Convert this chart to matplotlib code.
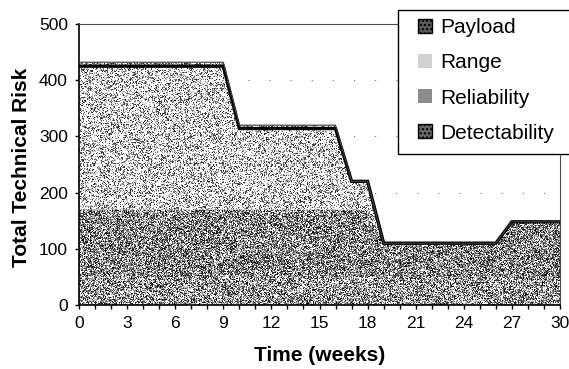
import matplotlib
matplotlib.use("Agg")
import matplotlib.pyplot as plt
import numpy as np
from matplotlib.patches import Patch, Rectangle

# risk per category over the programme, stacked bottom to top
weeks = list(range(31))
detectability = [50, 50, 50, 50, 50, 50, 50, 50, 50, 50,
                 50, 50, 50, 50, 50, 50, 50, 50, 50, 50,
                 50, 50, 50, 50, 50, 50, 50, 50, 50, 50, 50]
reliability = [120, 120, 120, 120, 120, 120, 120, 120, 120, 120,
               120, 120, 120, 120, 120, 120, 120, 120, 120, 60,
               60, 60, 60, 60, 60, 60, 60, 98, 98, 98, 98]
range_risk = [255, 255, 255, 255, 255, 255, 255, 255, 255, 255,
              144, 144, 144, 144, 144, 144, 144, 50, 50, 0,
              0, 0, 0, 0, 0, 0, 0, 0, 0, 0, 0]
payload = [7, 7, 7, 7, 7, 7, 7, 7, 7, 7,
           6, 6, 6, 6, 6, 6, 6, 0, 0, 0,
           0, 0, 0, 0, 0, 0, 0, 0, 0, 0, 0]

labels = ["Payload", "Range", "Reliability", "Detectability"]

W, H = 569, 369
fig = plt.figure(figsize=(W / 100, H / 100), dpi=100)
ax = fig.add_axes([79 / W, 1 - 305 / H, 481 / W, 281 / H])


def stipple(density, lo_tone, hi_tone, seed):
    # grainy fill texture, one cell per screen pixel
    rng = np.random.default_rng(seed)
    dots = rng.random((281, 481)) < density
    tone = rng.uniform(lo_tone, hi_tone, (281, 481))
    return np.where(dots, tone, 1.0)


lo = np.zeros(len(weeks))
layers = [
    (detectability, stipple(0.68, 0.0, 0.85, 1)),
    (reliability, stipple(0.76, 0.0, 0.8, 2)),
    (range_risk, stipple(0.45, 0.1, 0.9, 3)),
    (payload, stipple(0.6, 0.1, 0.8, 4)),
]
tops = []
for vals, tex in layers:
    hi = lo + np.array(vals)
    poly = ax.fill_between(weeks, lo, hi, facecolor="none", edgecolor="none")
    im = ax.imshow(tex, cmap="gray", vmin=0, vmax=1, extent=(0, 30, 0, 500),
                   aspect="auto", interpolation="nearest", zorder=1)
    im.set_clip_path(poly.get_paths()[0], transform=ax.transData)
    tops.append(hi)
    lo = hi

# heavy outline along the top of the range band, thin one on payload
ax.plot(weeks, tops[2], color="black", lw=2.4, zorder=3, solid_joinstyle="miter")
ax.plot(weeks, tops[3], color="0.25", lw=0.8, zorder=3)

ax.set_xlim(0, 30)
ax.set_ylim(0, 500)
ax.set_xticks(range(0, 31, 3))
ax.set_xticks(range(0, 31), minor=True)
ax.set_yticks(range(0, 501, 100))
ax.tick_params(axis="both", which="both", direction="out", length=3, width=1,
               labelsize=12.5, pad=5)
for t in ax.get_xticklabels() + ax.get_yticklabels():
    t.set_fontfamily("Liberation Sans")

ax.yaxis.grid(True, linestyle=(0, (1, 18)), color="0.45", lw=0.8)
ax.set_axisbelow(True)
for side in ["left", "bottom"]:
    ax.spines[side].set_linewidth(1.2)
for side in ["top", "right"]:
    ax.spines[side].set_linestyle((0, (1, 1)))
    ax.spines[side].set_color("0.3")

ax.set_ylabel("Total Technical Risk", fontsize=15, fontweight="bold",
              fontfamily="Liberation Sans")
ax.yaxis.set_label_coords(-0.1, 0.49)
ax.set_xlabel("Time (weeks)", fontsize=15, fontweight="bold",
              fontfamily="Liberation Sans")
ax.xaxis.set_label_coords(0.5, -0.145)

# legend box runs off the right edge of the figure
fig.add_artist(Rectangle((398 / W, 1 - 154 / H), 180 / W, 144 / H,
                         transform=fig.transFigure, facecolor="white",
                         edgecolor="black", lw=1.0, zorder=4))
handles = [
    Patch(facecolor="0.35", edgecolor="black", hatch="...."),
    Patch(facecolor="0.82", edgecolor="none", hatch=".."),
    Patch(facecolor="0.55", edgecolor="none", hatch="...."),
    Patch(facecolor="0.4", edgecolor="black", hatch="...."),
]
fig.legend(handles, labels, loc="upper left", bbox_to_anchor=(418 / W, 1 - 18 / H),
           frameon=False, borderpad=0, borderaxespad=0, handlelength=0.65,
           handleheight=0.65, handletextpad=0.4, labelspacing=0.78,
           prop={"family": "Liberation Sans", "size": 15})

fig.savefig("out.png", dpi=100)
